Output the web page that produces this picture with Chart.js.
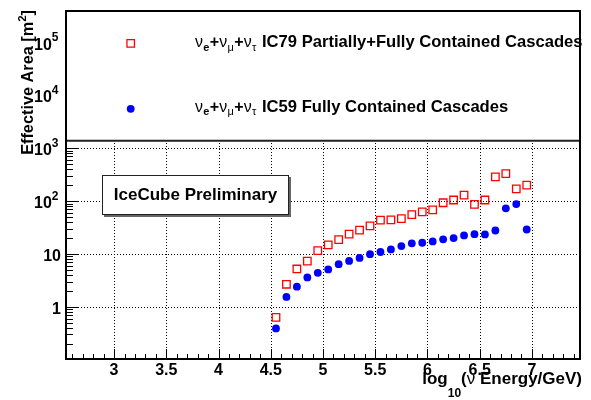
<!DOCTYPE html>
<html><head><meta charset="utf-8">
<script src="https://cdn.jsdelivr.net/npm/chart.js@4/dist/chart.umd.min.js"></script>
<style>html,body{margin:0;padding:0;background:#fff}#wrap{width:591px;height:400px;position:relative}</style>
</head><body><div id="wrap"><canvas id="c"></canvas></div>
<script>
const energyBins = [4.55,4.65,4.75,4.85,4.95,5.05,5.15,5.25,5.35,5.45,5.55,5.65,5.75,5.85,5.95,6.05,6.15,6.25,6.35,6.45,6.55,6.65,6.75,6.85,6.95];
const ic79Area = [0.63,2.67,5.2,7.3,11.6,14.8,18.6,23.7,28.2,34,43.5,44.2,46.7,55.6,62.4,68,93,105,130,87,105,287,331,171,200];
const ic59Area = [0.39,1.54,2.4,3.6,4.4,5.1,6.4,7.4,8.4,9.9,10.9,12.2,14.1,15.9,16.3,17.3,18.9,20,22.4,23.7,23.4,27.8,73,88,29];
const seriesNames = ['IC79 Partially+Fully Contained Cascades','IC59 Fully Contained Cascades'];
const xTickValues = [3,3.5,4,4.5,5,5.5,6,6.5,7];
const xTickLabels = ['3','3.5','4','4.5','5','5.5','6','6.5','7'];
const yTickValues = [1,10,100,1000,10000,100000];
const yTickBases = ['1','10','10','10','10','10'];
const yTickExps = ['','','2','3','4','5'];
const yGridValues = [1,10,100,1000];
const xRange = [2.54, 7.46];
const yRange = [0.103, 3.95e5];
const panelText = 'IceCube Preliminary';

const FF = '"Liberation Sans", Arial, Helvetica, sans-serif';
const B = s => 'bold ' + s + 'px ' + FF;
const R = s => s + 'px ' + FF;

function richWidth(ctx, parts){ let w=0; for(const p of parts){ctx.font=p.f; w+=ctx.measureText(p.t).width+(p.sp||0);} return w; }
function drawRich(ctx, parts, x, y){ for(const p of parts){ ctx.font=p.f; ctx.fillText(p.t, x, y+(p.dy||0)); x+=ctx.measureText(p.t).width+(p.sp||0); } }
function nuParts(){ return [
  {t:'\u03bd',f:R(16),sp:0.2},{t:'e',f:B(11),dy:3.5,sp:0.4},{t:'+',f:B(16),sp:0.2},
  {t:'\u03bd',f:R(16),sp:0.2},{t:'\u03bc',f:R(11),dy:3.5,sp:0.4},{t:'+',f:B(16),sp:0.2},
  {t:'\u03bd',f:R(16),sp:0.2},{t:'\u03c4',f:R(11),dy:3.5}]; }
function seg(ctx,x1,y1,x2,y2){ ctx.beginPath(); ctx.moveTo(x1,y1); ctx.lineTo(x2,y2); ctx.stroke(); }

const rootStyle = {
  id:'rootStyle',
  beforeDatasetsDraw(chart){
    const {ctx, chartArea:a, scales:{x,y}} = chart;
    ctx.save();
    ctx.strokeStyle='#000'; ctx.lineWidth=1; ctx.setLineDash([1,2]);
    for(const v of xTickValues){ const px=Math.round(x.getPixelForValue(v))+0.5; seg(ctx,px,a.top,px,a.bottom); }
    for(const v of yGridValues){ const py=Math.round(y.getPixelForValue(v))+0.5; seg(ctx,a.left,py,a.right,py); }
    ctx.restore();
  },
  afterDatasetsDraw(chart){
    const {ctx, chartArea:a, scales:{x,y}} = chart;
    ctx.save();
    ctx.strokeStyle='#000'; ctx.fillStyle='#000'; ctx.setLineDash([]);
    ctx.lineWidth=1;
    for(let i=26;i<=74;i++){
      const v=i/10; const px=Math.round(x.getPixelForValue(v))+0.5;
      const len = (i%5===0)?10:5;
      seg(ctx,px,a.bottom,px,a.bottom-len);
    }
    for(let d=-1; d<=5; d++){
      for(let m=1;m<=9;m++){
        const v=m*Math.pow(10,d);
        if(v<yRange[0]||v>yRange[1]) continue;
        const py=Math.round(y.getPixelForValue(v))+0.5;
        seg(ctx,a.left,py,a.left+(m===1?13:7),py);
      }
    }
    // legend pad covering the upper part
    const legBottom = 140.7;
    ctx.fillStyle='#fff';
    ctx.fillRect(a.left, a.top, a.right-a.left, legBottom-a.top);
    ctx.lineWidth=2; ctx.strokeStyle='#222';
    seg(ctx,a.left-1,legBottom,a.right+1,legBottom);
    ctx.strokeStyle='#000';
    ctx.strokeRect(a.left, a.top, a.right-a.left, a.bottom-a.top);

    // legend entries
    const ds = chart.data.datasets;
    const lx = 130.7, ly = [43.3, 108.8], tx = 195, nameX = 262, tb = [47.3, 111.8];
    for(let k=0;k<2;k++){
      const d=ds[k];
      if (Chart.helpers && Chart.helpers.drawPoint){
        ctx.lineWidth=d.borderWidth; ctx.strokeStyle=d.borderColor; ctx.fillStyle=d.backgroundColor;
        Chart.helpers.drawPoint(ctx,{pointStyle:d.pointStyle,radius:d.pointRadius,borderWidth:d.borderWidth,rotation:0},lx,ly[k]);
      }
      ctx.fillStyle='#000';
      ctx.textAlign='left'; ctx.textBaseline='alphabetic';
      drawRich(ctx, nuParts(), tx, tb[k]);
      ctx.font=B(16.6); ctx.fillText(seriesNames[k], nameX, tb[k]);
    }

    // IceCube Preliminary box
    const bx=102,by=175,bw=187,bh=40;
    ctx.fillStyle='#666'; ctx.fillRect(bx+2,by+2,bw,bh);
    ctx.fillStyle='#fff'; ctx.fillRect(bx,by,bw,bh);
    ctx.lineWidth=1; ctx.strokeStyle='#222'; ctx.strokeRect(bx+0.5,by+0.5,bw-1,bh-1);
    ctx.fillStyle='#000'; ctx.font=B(17); ctx.textAlign='center'; ctx.textBaseline='middle';
    ctx.fillText(panelText, bx+bw/2, by+bh/2);

    // x tick labels
    ctx.font=B(16); ctx.textAlign='center'; ctx.textBaseline='alphabetic';
    xTickValues.forEach((v,i)=>{ ctx.fillText(xTickLabels[i], x.getPixelForValue(v), 375); });
    // y tick labels
    yTickValues.forEach((v,i)=>{
      const py=y.getPixelForValue(v)+7;
      if(yTickExps[i]){
        const parts=[{t:yTickBases[i],f:B(16)},{t:yTickExps[i],f:B(12),dy:-8.3}];
        ctx.textAlign='left';
        drawRich(ctx, parts, 58.5-richWidth(ctx,parts), py);
      } else {
        ctx.font=B(16); ctx.textAlign='right'; ctx.fillText(yTickBases[i], 61, py);
      }
    });
    // x title
    ctx.textAlign='left';
    const xt=[{t:'log',f:B(17)},{t:'10',f:B(12),dy:13},{t:'(',f:B(17)},{t:'\u03bd',f:R(17)},{t:' Energy/GeV)',f:B(17)}];
    drawRich(ctx, xt, 582-richWidth(ctx,xt), 384);
    // y title
    const yt=[{t:'Effective Area [m',f:B(16.3)},{t:'2',f:B(11.5),dy:-7},{t:']',f:B(16.3)}];
    ctx.save(); ctx.translate(32.5,10); ctx.rotate(-Math.PI/2);
    drawRich(ctx, yt, -richWidth(ctx,yt), 0);
    ctx.restore();
    ctx.restore();
  }
};

new Chart(document.getElementById('c'), {
  type:'scatter',
  data:{datasets:[
    {label:seriesNames[0], data:energyBins.map((e,i)=>({x:e,y:ic79Area[i]})), pointStyle:'rect', pointRadius:5.3, radius:5.3, borderColor:'#ff0000', borderWidth:1.3, backgroundColor:'rgba(0,0,0,0)'},
    {label:seriesNames[1], data:energyBins.map((e,i)=>({x:e,y:ic59Area[i]})), pointStyle:'circle', pointRadius:3.9, radius:3.9, borderColor:'#0000ff', borderWidth:0, backgroundColor:'#0000ff'}
  ]},
  options:{
    responsive:true, maintainAspectRatio:false, animation:false, events:[],
    layout:{padding:{left:66,right:11,top:11,bottom:41}},
    plugins:{legend:{display:false}, tooltip:{enabled:false}},
    scales:{
      x:{type:'linear', min:xRange[0], max:xRange[1], display:false},
      y:{type:'logarithmic', min:yRange[0], max:yRange[1], display:false}
    }
  },
  plugins:[rootStyle]
});
</script></body></html>
